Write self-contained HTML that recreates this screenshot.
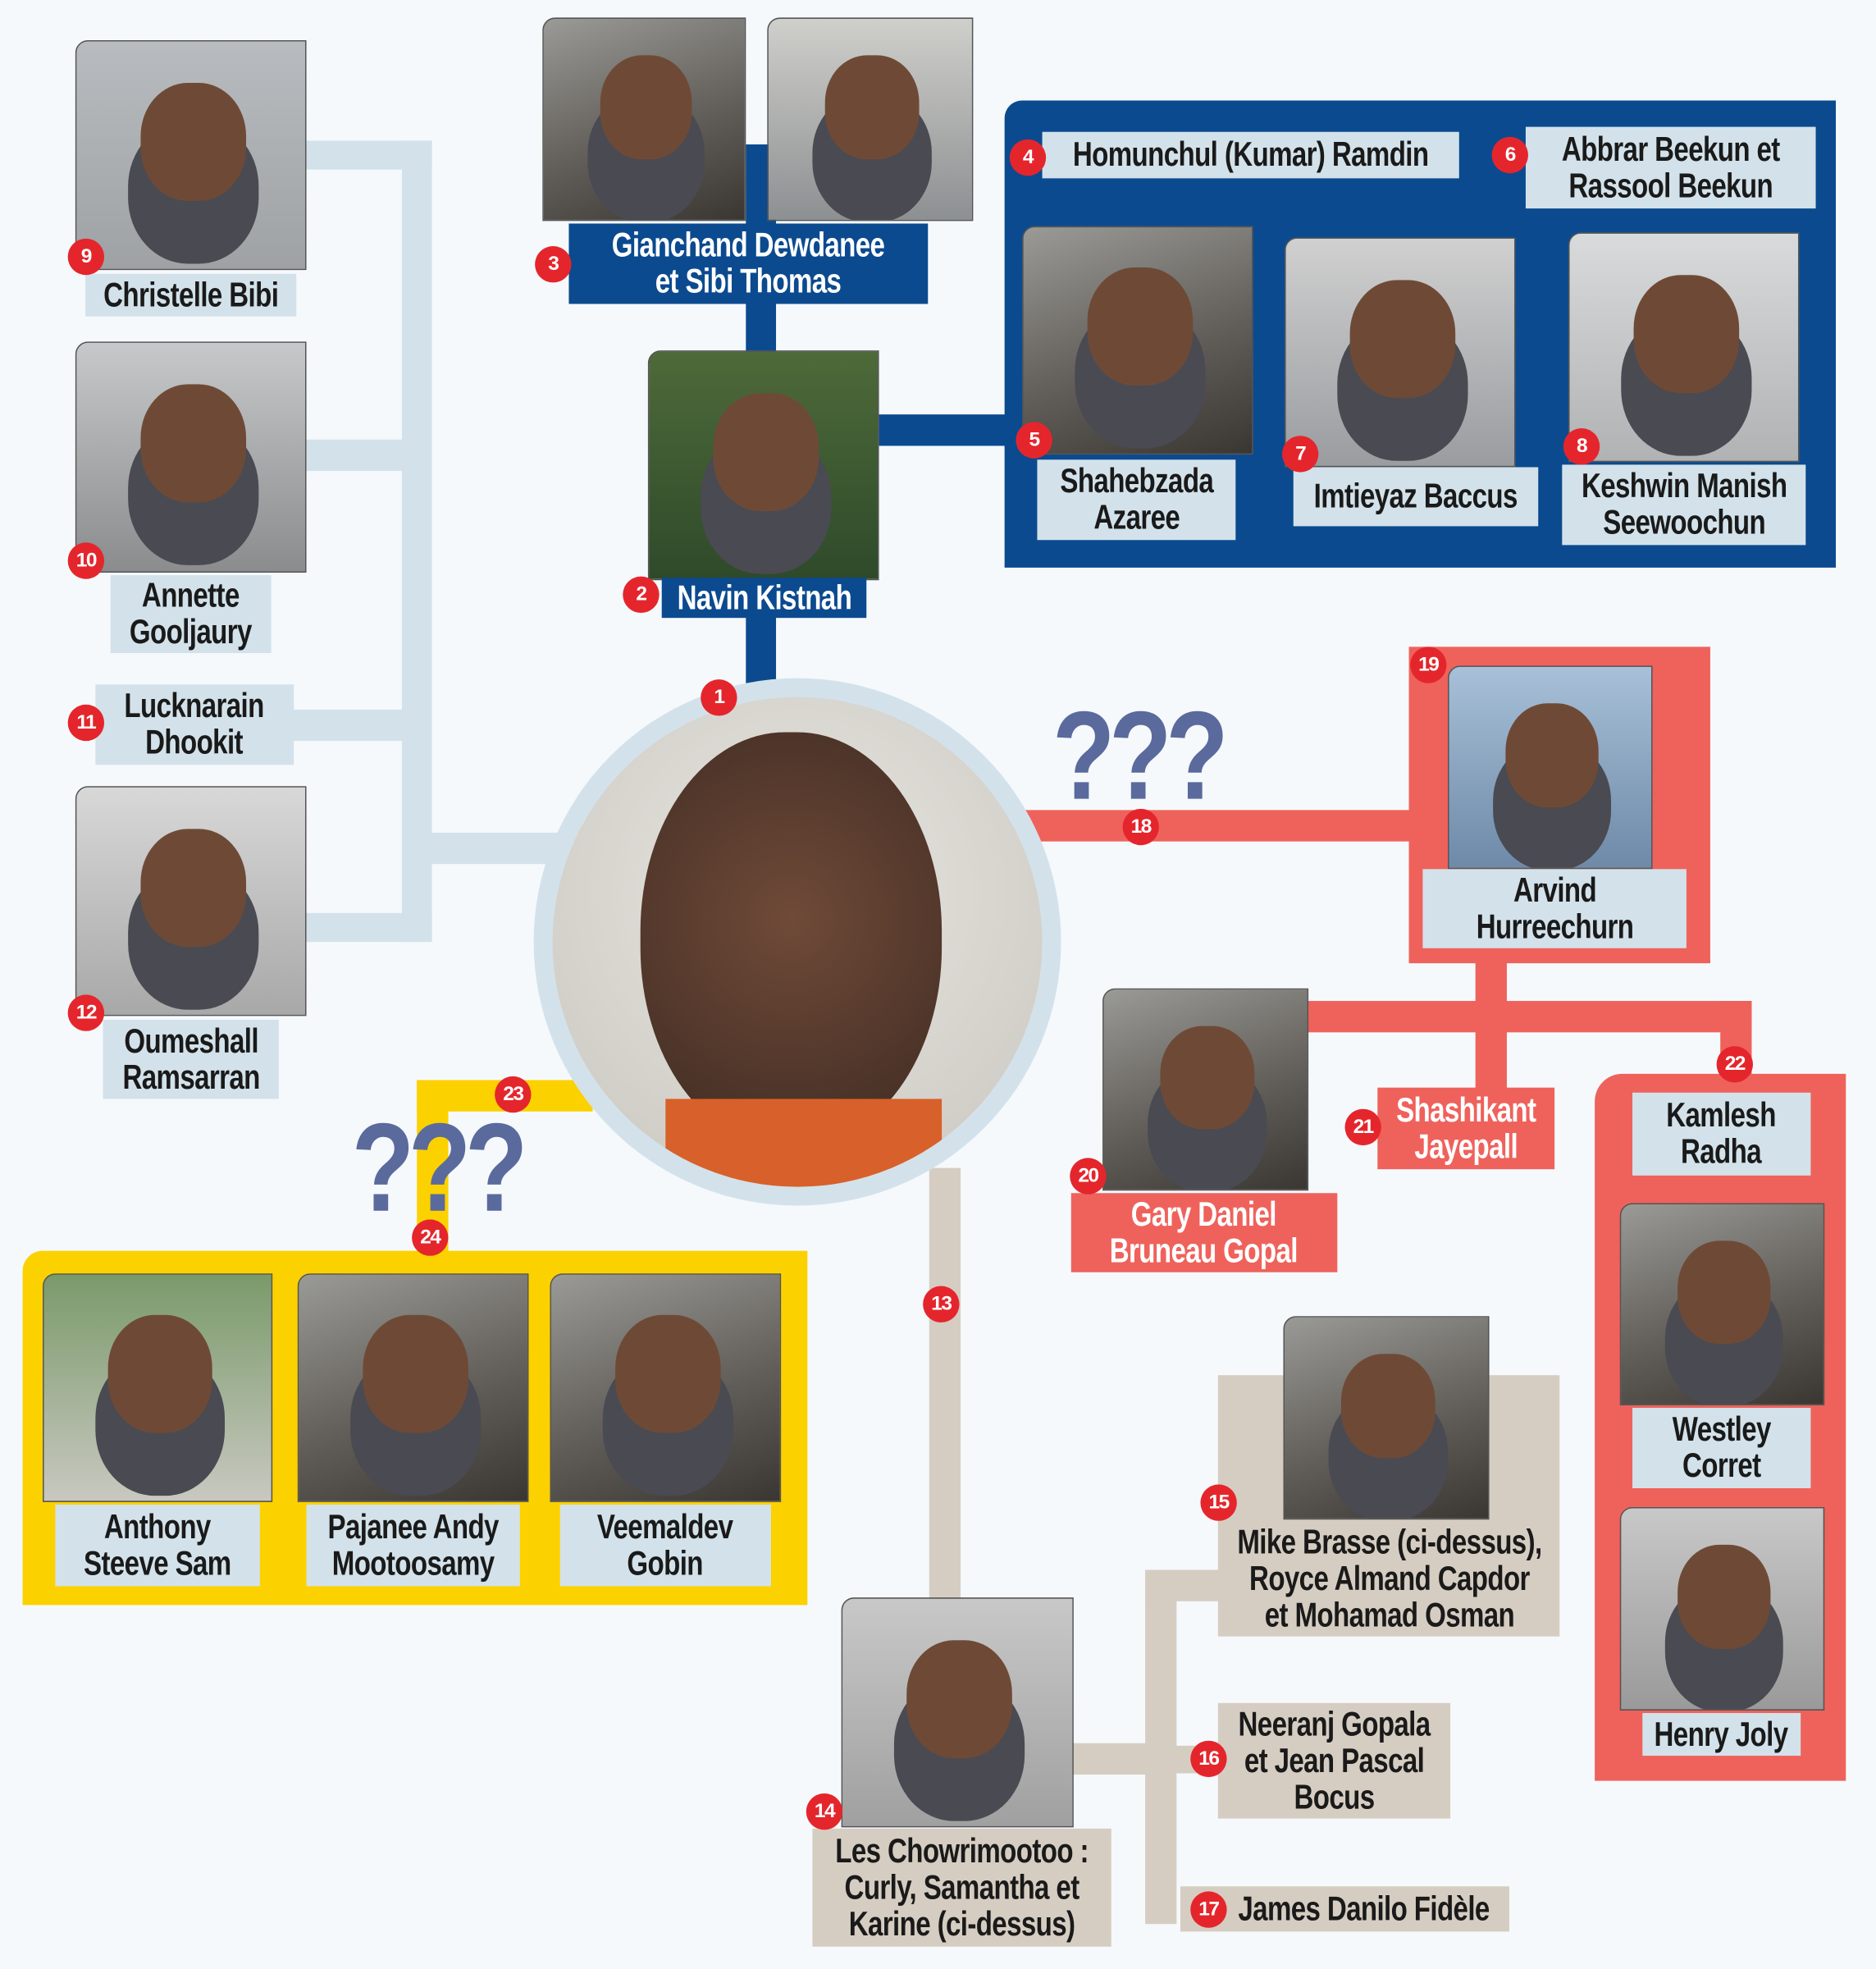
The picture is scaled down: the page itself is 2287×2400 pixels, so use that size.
<!DOCTYPE html>
<html><head><meta charset="utf-8"><style>
html,body{margin:0;padding:0;background:#f5f9fc;overflow:hidden}
#w{position:absolute;left:0;top:0;width:1494px;height:1568px;transform:scale(1.5308);transform-origin:0 0;background:#f5f9fc}
#w div{position:absolute;box-sizing:border-box}
.lb{background:#d3e2ea}.nv{background:#0b4a8f}.rd{background:#ef625c}.yl{background:#fcd100}.bg{background:#d6cdc2}
.t{font-family:"Liberation Sans",sans-serif;font-weight:bold;font-size:27px;line-height:29px;text-align:center;color:#1a1a1a;letter-spacing:-0.5px;display:flex;align-items:center;justify-content:center}
.t span{display:inline-block;transform:scaleX(.8);white-space:nowrap}
.w{color:#fff}
.p{background:linear-gradient(160deg,#9a9a96,#5e5a55 60%,#3a3632);border:1px solid #555;border-radius:10px 0 0 0;overflow:hidden}
.p::after{content:"";position:absolute;left:28%;top:18%;width:46%;height:52%;border-radius:45%;background:#6e4a36;box-shadow:0 40px 0 10px #4a4a52}
.b{width:29px;height:29px;border-radius:50%;background:#e4262c;color:#fff;font-family:"Liberation Sans",sans-serif;font-weight:bold;font-size:16px;line-height:29px;text-align:center;margin:-14px 0 0 -14px;letter-spacing:-1px}
.q{font-family:"Liberation Sans",sans-serif;font-weight:900;font-size:100px;color:#5b6a9c;line-height:1;letter-spacing:-6px;transform:scaleX(.82);transform-origin:0 0}
</style></head><body><div id="w">
<div class="lb" style="left:320px;top:112px;width:24px;height:638px"></div>
<div class="lb" style="left:244px;top:112px;width:100px;height:23px"></div>
<div class="lb" style="left:244px;top:350px;width:80px;height:25px"></div>
<div class="lb" style="left:232px;top:565px;width:90px;height:25px"></div>
<div class="lb" style="left:244px;top:727px;width:100px;height:23px"></div>
<div class="lb" style="left:340px;top:663px;width:110px;height:25px"></div>
<div class="nv" style="left:594px;top:115px;width:24px;height:430px"></div>
<div class="nv" style="left:700px;top:330px;width:110px;height:25px"></div>
<div class="nv" style="left:800px;top:80px;width:662px;height:372px;border-radius:14px 0 0 0"></div>
<div class="rd" style="left:815px;top:645px;width:320px;height:25px"></div>
<div class="rd" style="left:1122px;top:515px;width:240px;height:252px"></div>
<div class="rd" style="left:1175px;top:765px;width:25px;height:105px"></div>
<div class="rd" style="left:1040px;top:797px;width:355px;height:25px"></div>
<div class="rd" style="left:1370px;top:797px;width:25px;height:65px"></div>
<div class="rd" style="left:1270px;top:855px;width:200px;height:563px;border-radius:22px 0 0 0"></div>
<div class="yl" style="left:332px;top:860px;width:140px;height:25px"></div>
<div class="yl" style="left:332px;top:860px;width:25px;height:140px"></div>
<div class="yl" style="left:18px;top:996px;width:625px;height:282px;border-radius:16px 0 0 0"></div>
<div class="bg" style="left:740px;top:930px;width:25px;height:345px"></div>
<div class="bg" style="left:852px;top:1388px;width:70px;height:25px"></div>
<div class="bg" style="left:912px;top:1250px;width:25px;height:282px"></div>
<div class="bg" style="left:912px;top:1250px;width:70px;height:25px"></div>
<div class="bg" style="left:930px;top:1390px;width:45px;height:22px"></div>
<div class="bg" style="left:970px;top:1095px;width:272px;height:208px"></div>

<div style="left:425px;top:540px;width:420px;height:420px;border-radius:50%;background:#d3e2ea"></div>
<div style="left:440px;top:555px;width:390px;height:390px;border-radius:50%;background:radial-gradient(circle at 50% 40%,#e8e6e0,#c9c6c0);overflow:hidden"><div style="left:70px;top:28px;width:240px;height:330px;border-radius:48%;background:radial-gradient(circle at 50% 45%,#6f4a38,#3d2a22)"></div><div style="left:90px;top:320px;width:220px;height:80px;background:#d8602a"></div></div>

<div class="p" style="left:60px;top:32px;width:184px;height:183px;background:linear-gradient(#b8bcc0,#9ea2a4)"></div>
<div class="p" style="left:60px;top:272px;width:184px;height:184px;background:linear-gradient(#c6c8ca,#8a8c8e)"></div>
<div class="p" style="left:60px;top:626px;width:184px;height:183px;background:linear-gradient(#d8d8d8,#a8a8a8)"></div>
<div class="p" style="left:432px;top:14px;width:162px;height:162px"></div>
<div class="p" style="left:611px;top:14px;width:164px;height:162px;background:linear-gradient(#cfcfcb,#8d9092)"></div>
<div class="p" style="left:516px;top:279px;width:184px;height:183px;background:linear-gradient(#4e6a3a,#2e4a2a)"></div>
<div class="p" style="left:814px;top:180px;width:184px;height:182px"></div>
<div class="p" style="left:1023px;top:189px;width:184px;height:183px;background:linear-gradient(#d0d0d0,#9a9ca0)"></div>
<div class="p" style="left:1249px;top:185px;width:184px;height:183px;background:linear-gradient(#d8dadc,#b0b2b4)"></div>
<div class="p" style="left:1153px;top:530px;width:163px;height:162px;background:linear-gradient(#a8c0d8,#6e8aa8)"></div>
<div class="p" style="left:878px;top:787px;width:164px;height:161px"></div>
<div class="p" style="left:1290px;top:958px;width:163px;height:161px"></div>
<div class="p" style="left:1290px;top:1200px;width:163px;height:162px;background:linear-gradient(#c8c8c8,#9a9a9a)"></div>
<div class="p" style="left:34px;top:1014px;width:183px;height:182px;background:linear-gradient(#7a9a6a,#c8c8c0)"></div>
<div class="p" style="left:237px;top:1014px;width:184px;height:182px"></div>
<div class="p" style="left:438px;top:1014px;width:184px;height:182px"></div>
<div class="p" style="left:670px;top:1272px;width:185px;height:183px;background:linear-gradient(#c8c8c8,#a0a0a0)"></div>
<div class="p" style="left:1022px;top:1048px;width:164px;height:162px"></div>

<div class="t lb" style="left:68px;top:218px;width:168px;height:34px"><span>Christelle Bibi</span></div>
<div class="t lb" style="left:88px;top:458px;width:128px;height:62px"><span>Annette<br>Gooljaury</span></div>
<div class="t lb" style="left:76px;top:545px;width:158px;height:64px"><span>Lucknarain<br>Dhookit</span></div>
<div class="t lb" style="left:82px;top:812px;width:140px;height:63px"><span>Oumeshall<br>Ramsarran</span></div>
<div class="t nv w" style="left:453px;top:178px;width:286px;height:64px"><span>Gianchand Dewdanee<br>et Sibi Thomas</span></div>
<div class="t nv w" style="left:527px;top:460px;width:163px;height:32px"><span>Navin Kistnah</span></div>
<div class="t lb" style="left:830px;top:105px;width:332px;height:37px"><span>Homunchul (Kumar) Ramdin</span></div>
<div class="t lb" style="left:1215px;top:101px;width:231px;height:65px"><span>Abbrar Beekun et<br>Rassool Beekun</span></div>
<div class="t lb" style="left:826px;top:366px;width:158px;height:64px"><span>Shahebzada<br>Azaree</span></div>
<div class="t lb" style="left:1030px;top:372px;width:195px;height:47px"><span>Imtieyaz Baccus</span></div>
<div class="t lb" style="left:1244px;top:370px;width:194px;height:64px"><span>Keshwin Manish<br>Seewoochun</span></div>
<div class="t lb" style="left:1133px;top:692px;width:210px;height:63px"><span>Arvind<br>Hurreechurn</span></div>
<div class="t rd w" style="left:853px;top:950px;width:212px;height:63px"><span>Gary Daniel<br>Bruneau Gopal</span></div>
<div class="t rd w" style="left:1097px;top:866px;width:141px;height:65px"><span>Shashikant<br>Jayepall</span></div>
<div class="t lb" style="left:1300px;top:870px;width:142px;height:66px"><span>Kamlesh<br>Radha</span></div>
<div class="t lb" style="left:1300px;top:1121px;width:142px;height:64px"><span>Westley<br>Corret</span></div>
<div class="t lb" style="left:1308px;top:1364px;width:126px;height:34px"><span>Henry Joly</span></div>
<div class="t lb" style="left:44px;top:1198px;width:163px;height:65px"><span>Anthony<br>Steeve Sam</span></div>
<div class="t lb" style="left:244px;top:1198px;width:170px;height:65px"><span>Pajanee Andy<br>Mootoosamy</span></div>
<div class="t lb" style="left:446px;top:1198px;width:168px;height:65px"><span>Veemaldev<br>Gobin</span></div>
<div class="t bg" style="left:647px;top:1456px;width:238px;height:94px"><span>Les Chowrimootoo :<br>Curly, Samantha et<br>Karine (ci-dessus)</span></div>
<div class="t" style="left:972px;top:1212px;width:270px;height:90px"><span>Mike Brasse (ci-dessus),<br>Royce Almand Capdor<br>et Mohamad Osman</span></div>
<div class="t bg" style="left:970px;top:1356px;width:185px;height:92px"><span>Neeranj Gopala<br>et Jean Pascal<br>Bocus</span></div>
<div class="t bg" style="left:940px;top:1502px;width:262px;height:36px;padding-left:30px"><span>James Danilo Fidèle</span></div>

<div class="q" style="left:838px;top:552px">???</div>
<div class="q" style="left:280px;top:880px">???</div>

<div class="b" style="left:572px;top:555px">1</div>
<div class="b" style="left:510px;top:473px">2</div>
<div class="b" style="left:440px;top:210px">3</div>
<div class="b" style="left:818px;top:125px">4</div>
<div class="b" style="left:823px;top:350px">5</div>
<div class="b" style="left:1202px;top:123px">6</div>
<div class="b" style="left:1035px;top:361px">7</div>
<div class="b" style="left:1259px;top:355px">8</div>
<div class="b" style="left:68px;top:204px">9</div>
<div class="b" style="left:68px;top:446px">10</div>
<div class="b" style="left:68px;top:575px">11</div>
<div class="b" style="left:68px;top:806px">12</div>
<div class="b" style="left:749px;top:1038px">13</div>
<div class="b" style="left:656px;top:1442px">14</div>
<div class="b" style="left:970px;top:1196px">15</div>
<div class="b" style="left:962px;top:1400px">16</div>
<div class="b" style="left:962px;top:1520px">17</div>
<div class="b" style="left:908px;top:658px">18</div>
<div class="b" style="left:1137px;top:529px">19</div>
<div class="b" style="left:866px;top:936px">20</div>
<div class="b" style="left:1085px;top:897px">21</div>
<div class="b" style="left:1381px;top:847px">22</div>
<div class="b" style="left:408px;top:871px">23</div>
<div class="b" style="left:342px;top:985px">24</div>
</div></body></html>
